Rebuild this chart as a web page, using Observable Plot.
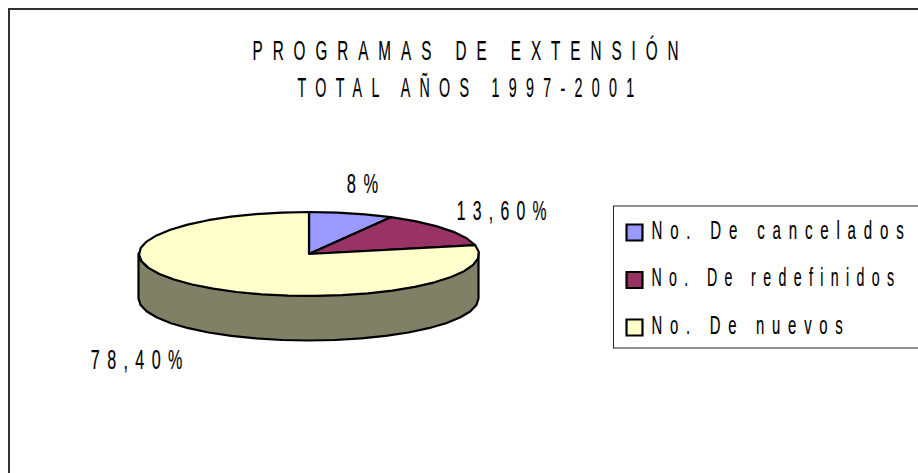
<!DOCTYPE html>
<html><head><meta charset="utf-8">
<style>
html,body{margin:0;padding:0;background:#fff}
svg text{font-family:"Liberation Sans",Arial,sans-serif;fill:#000;stroke:#000;stroke-width:.2px}
.ttl text{letter-spacing:17.6px}
.leg text{letter-spacing:13.5px}
.lab text{letter-spacing:12.4px}
</style>
<script src="https://cdn.jsdelivr.net/npm/d3@7"></script>
<script src="https://cdn.jsdelivr.net/npm/@observablehq/plot@0.6"></script>
</head><body><div id="chart"></div>
<script>
const categories = ["No. De cancelados","No. De redefinidos","No. De nuevos"];
const shares = [8, 13.6, 78.4];
const shareLabels = ["8%","13,60%","78,40%"];
const sliceColors = ["#9999ff","#993366","#ffffcc"];
const sideColor = "#808066";
const titleLines = ["PROGRAMAS DE EXTENSIÓN","TOTAL AÑOS 1997-2001"];

const W = 918, H = 473;
const pie = {cx:308.5, cy:253.5, rx:170, ry:42, depth:45, step:9};
const labelOffsets = [[15,-29],[60,-18],[-62,74]];
const titleWidths = [436,346];
const legendWidths = [260,250,199];
const labelWidths = [39,97,99];

const pt = deg => ({x: pie.cx + pie.rx*Math.sin(deg*Math.PI/180), y: pie.cy - pie.ry*Math.cos(deg*Math.PI/180)});
function arcDegs(a,b){const out=[];const n=Math.max(1,Math.round((b-a)/pie.step));for(let i=0;i<=n;i++)out.push(a+(b-a)*i/n);return out;}

let cum=0;
const slices=[], anchors=[];
shares.forEach((v,i)=>{
  const a=cum*3.6; cum+=v; const b=cum*3.6;
  const c={x:pie.cx,y:pie.cy};
  const ring=arcDegs(a,b).map(pt);
  [c,...ring,c].forEach(p=>slices.push({...p,category:categories[i]}));
  anchors.push({...pt((a+b)/2),label:shareLabels[i],off:labelOffsets[i]});
});
const side=arcDegs(90,270).map(d=>{const p=pt(d);return {x:p.x,y1:p.y,y2:p.y+pie.depth};});

const legendRows=categories.map((c,i)=>({category:c,i,x:634,y:232+i*47.5}));
const titleRows=titleLines.map((t,i)=>({text:t,i}));

const chart = Plot.plot({
  width:W,height:H,margin:0,
  x:{domain:[0,W],range:[0,W],axis:null},
  y:{domain:[0,H],range:[0,H],axis:null},
  color:{domain:categories,range:sliceColors},
  marks:[
    Plot.rect([{}],{x1:9,x2:W+3,y1:9,y2:H+3,fill:"#fff",stroke:"#333",strokeWidth:2}),
    Plot.areaY(side,{x:"x",y1:"y1",y2:"y2",fill:sideColor,stroke:"#000",strokeWidth:2.2,strokeLinejoin:"round"}),
    Plot.line(slices,{x:"x",y:"y",z:"category",fill:"category",stroke:"#000",strokeWidth:2.2,strokeLinejoin:"round"}),
    Plot.rect([{}],{x1:613.5,x2:W+3,y1:206,y2:348,fill:"none",stroke:"#222",strokeWidth:1}),
    Plot.dot(legendRows,{x:"x",y:"y",symbol:"square",r:9,fill:"category",stroke:"#000",strokeWidth:2.2}),
    Plot.text(legendRows,{x:651,y:d=>d.y-2,text:"category",textAnchor:"start",fontSize:26,className:"leg"}),
    Plot.text(titleRows,{x:470,y:d=>51+d.i*37,text:"text",fontSize:27,className:"ttl"}),
    Plot.text(anchors,{x:d=>d.x+d.off[0],y:d=>d.y+d.off[1],text:"label",fontSize:27,className:"lab"})
  ]
});
document.getElementById("chart").append(chart);
function fit(cls,widths){
  chart.querySelectorAll("."+cls+" text").forEach((t,i)=>{
    t.setAttribute("textLength",widths[i]);
    t.setAttribute("lengthAdjust","spacingAndGlyphs");
  });
}
fit("ttl",titleWidths);fit("leg",legendWidths);fit("lab",labelWidths);
</script></body></html>
